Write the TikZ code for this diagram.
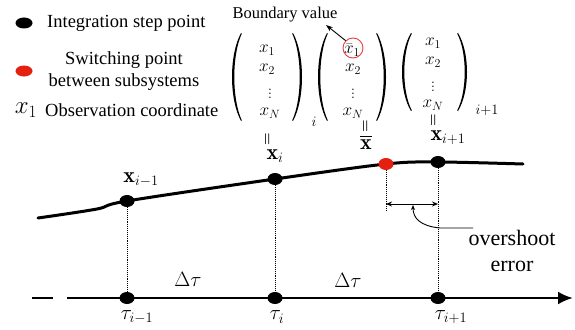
\documentclass[tikz,border=0pt]{standalone}
\usepackage{amsmath}
\usepackage{fontspec}
\newfontfamily\tnr{Liberation Serif}
\usetikzlibrary{shapes.geometric,arrows.meta}
\definecolor{swred}{RGB}{228,32,16}
\definecolor{circred}{RGB}{235,60,60}
% left / right parenthesis: centre x, centre y, half height
\newcommand{\myLP}[3]{\fill (#1+4,#2-#3) .. controls (#1-8,#2-#3*0.5) and (#1-8,#2+#3*0.5) .. (#1+4,#2+#3) -- (#1+4.8,#2+#3-0.6) .. controls (#1-5.2,#2+#3*0.5) and (#1-5.2,#2-#3*0.5) .. (#1+4.8,#2-#3+0.6) -- cycle;}
\newcommand{\myRP}[3]{\fill (#1-4,#2-#3) .. controls (#1+8,#2-#3*0.5) and (#1+8,#2+#3*0.5) .. (#1-4,#2+#3) -- (#1-4.8,#2+#3-0.6) .. controls (#1+5.2,#2+#3*0.5) and (#1+5.2,#2-#3*0.5) .. (#1-4.8,#2-#3+0.6) -- cycle;}
\begin{document}
\begin{tikzpicture}[x=1pt,y=-1pt,
  txt/.style={font=\tnr\fontsize{18.5}{22}\selectfont, inner sep=0pt},
  bvtxt/.style={font=\tnr\fontsize{16.5}{20}\selectfont, inner sep=0pt},
  ovtxt/.style={font=\tnr\fontsize{22}{26}\selectfont, inner sep=0pt, align=center},
  mth/.style={font=\fontsize{22}{26}\selectfont, inner sep=0pt},
  ent/.style={font=\fontsize{17.28}{20}\selectfont, inner sep=0pt},
  subs/.style={font=\fontsize{20.74}{24}\selectfont, inner sep=0pt},
  eqv/.style={font=\fontsize{15}{17}\selectfont\boldmath, inner sep=0pt, rotate=90},
  dotb/.style={ellipse, fill=black, minimum width=15pt, minimum height=12pt, inner sep=0pt},
  dotr/.style={ellipse, fill=swred, minimum width=15pt, minimum height=12pt, inner sep=0pt},
  curveln/.style={line width=3pt, line cap=round},
  axisln/.style={line width=2.6pt},
  dotln/.style={densely dotted, line width=0.9pt},
  dimln/.style={line width=0.9pt},
]
\useasboundingbox (0,0) rectangle (575,329);

% ---------- legend ----------
\node[dotb, minimum width=17pt, minimum height=11pt] (lg1) at (24,23) {};
\node[txt, anchor=west] (lt1) at (47,23) {Integration step point};
\node[dotr, minimum width=17pt, minimum height=11pt] (lg2) at (24,71) {};
\node[txt, align=center] (lt2) at (124,71) {Switching point\\between subsystems};
\node[font=\fontsize{26}{30}\selectfont, inner sep=0pt] (lg3) at (26,110) {$x_1$};
\node[txt, anchor=west] (lt3) at (45,110) {Observation coordinate};

% ---------- vectors ----------
% matrix 1
\myLP{237}{77}{44}
\node[ent] (m1a) at (267,50) {$x_1$};
\node[ent] (m1b) at (267,69) {$x_2$};
\node[ent] (m1c) at (270,91) {$\vdots$};
\node[ent] (m1d) at (270,113) {$x_N$};
\myRP{297}{77}{44}
\node[subs] (m1s) at (314,122) {$\scriptstyle i$};
% matrix 2
\myLP{323}{77}{44}
\node[ent] (m2a) at (352,50) {$\bar{x}_1$};
\node[ent] (m2b) at (353,69) {$x_2$};
\node[ent] (m2c) at (353,91) {$\vdots$};
\node[ent] (m2d) at (353,113) {$x_N$};
\myRP{381}{77}{44}
% matrix 3
\myLP{407}{72}{39}
\node[ent] (m3a) at (433,43) {$x_1$};
\node[ent] (m3b) at (433,62) {$x_2$};
\node[ent] (m3c) at (433,84) {$\vdots$};
\node[ent] (m3d) at (433,105) {$x_N$};
\myRP{462}{72}{39}
\node[subs] (m3s) at (487,110) {$\scriptstyle i+1$};

% boundary value
\node[draw=circred, line width=0.9pt, circle, minimum size=20pt, inner sep=0pt] (bc) at (353,48) {};
\node[bvtxt] (bv) at (285,15) {Boundary value};
\coordinate (bvtip) at (326,25);
\draw[-{Stealth[length=7pt,width=5pt]}, line width=0.9pt] (bc.north west) -- (bvtip);

% equalities
\node[eqv] (e1) at (268,139) {$=$};
\node[mth] (X1) at (275,156) {$\mathbf{x}_i$};
\node[eqv] (e2) at (366,126) {$=$};
\node[mth] (Xb) at (366,145) {$\mathbf{x}$};
\draw[line width=1.6pt] ([yshift=3.5pt]Xb.north west) -- ([yshift=3.5pt]Xb.north east);
\node[eqv] (e3) at (434,120) {$=$};
\node[mth] (X3) at (448,138) {$\mathbf{x}_{i+1}$};

% ---------- curve ----------
\coordinate (c0) at (38,218);
\coordinate (c1) at (97,209);
\coordinate (d1) at (127,201);
\coordinate (d2) at (275,179);
\coordinate (dr) at (386,164);
\coordinate (d3) at (438,162);
\coordinate (c9) at (523,164);
\draw[curveln] plot[smooth, tension=0.55] coordinates {(c0) (c1) (d1) (d2) (dr) (d3) (c9)};

\node[dotb] (n1) at (d1) {};
\node[dotb] (n2) at (d2) {};
\node[dotr] (nr) at (dr) {};
\node[dotb] (n3) at (d3) {};
\node[mth] (Xm) at (141,180) {$\mathbf{x}_{i-1}$};

% ---------- axis ----------
\coordinate (a0) at (32,298);
\coordinate (a1) at (53,298);
\coordinate (a2) at (67,298);
\coordinate (aend) at (573,298);
\draw[axisln] (a0) -- (a1);
\draw[axisln, -{Latex[length=15pt,width=13pt]}] (a2) -- (aend);
\node[dotb] (t1) at (127,298) {};
\node[dotb] (t2) at (275,298) {};
\node[dotb] (t3) at (438,298) {};

\draw[dotln] (n1) -- (t1);
\draw[dotln] (n2) -- (t2);
\draw[dotln] (n3) -- (t3);
\coordinate (rb) at (386,211);
\draw[dotln] (nr) -- (rb);

% overshoot dimension
\coordinate (da) at (386,204);
\coordinate (db) at (438,204);
\draw[dimln, {Stealth[length=6pt,width=5pt]}-{Stealth[length=6pt,width=5pt]}] (da) -- (db);
\coordinate (dm) at (413,205);
\node[ovtxt] (ov) at (512,251) {overshoot\\error};
\coordinate (ovl) at (473,228);
\draw[dimln, -{Stealth[length=5pt,width=4pt]}] (ovl) -- (440,228) .. controls (420,226) and (413,218) .. (dm);

% labels
\node[mth] (dt1) at (188,279) {$\Delta\tau$};
\node[mth] (dt2) at (348,280) {$\Delta\tau$};
\node[mth] (tau1) at (137,317) {$\tau_{i-1}$};
\node[mth] (tau2) at (277,317) {$\tau_i$};
\node[mth] (tau3) at (451,317) {$\tau_{i+1}$};
\end{tikzpicture}
\end{document}
